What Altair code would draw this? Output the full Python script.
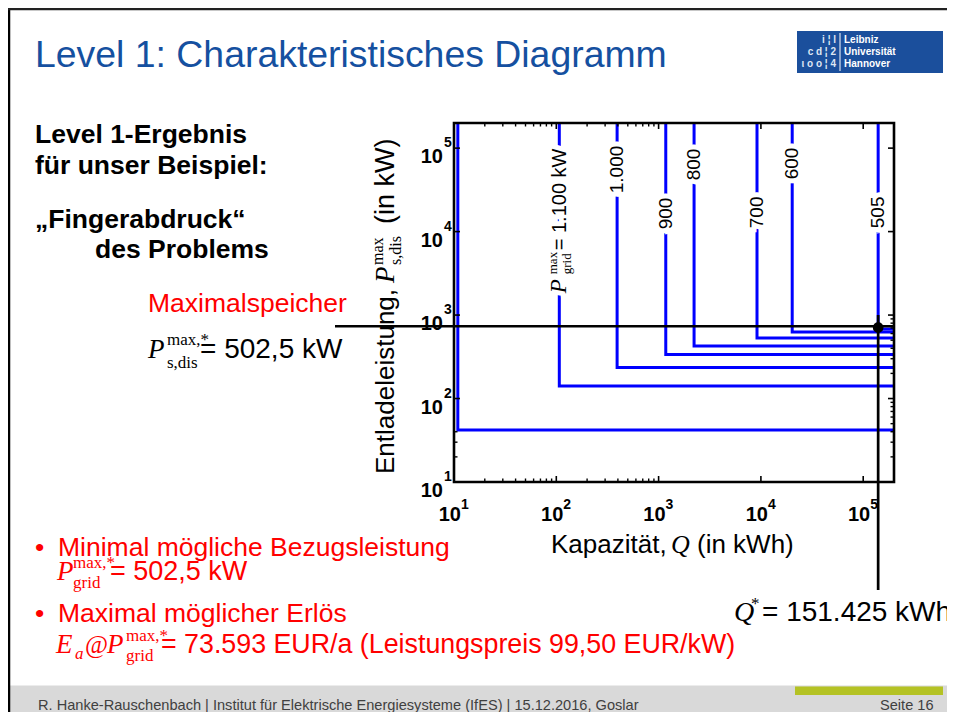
import altair as alt
import pandas as pd

# ---------------- data ----------------
AX_MIN, AX_MAX = 10, 2e5                     # both axes, log scale
curve_names = ["1.200", "1.100", "1.000", "900", "800", "700", "600", "505"]
curve_Q = [10.9, 107, 393, 1175, 2222, 9160, 20230, 140000]      # kWh (vertical leg)
curve_P = [41.9, 141, 236, 337, 427, 532, 627, 682]              # kW  (horizontal leg)

label_text = ["1.000", "900", "800", "700", "600", "505"]
label_Q = [393, 1175, 2222, 9160, 20230, 140000]
label_P = [55500, 16500, 63700, 17000, 65500, 17000]
main_label_Q, main_label_P = 107, 1825

opt_Q, opt_P = 140000, 710          # optimum point
hline_P, vline_top_P = 734, 1000    # black guide lines

major_ticks = [10, 100, 1000, 10000, 100000]
major_exp = ["1", "2", "3", "4", "5"]
minor_bottom = [20, 30, 40, 50, 60, 70, 80, 90, 200, 300, 400, 500, 600, 700, 800, 900]
minor_top = minor_bottom
minor_left = [20, 30, 40]
minor_right = [20, 30, 40, 50, 60, 70, 80, 90, 200, 300, 400, 500, 600, 700, 800, 900]

# ---------------- layout ----------------
W, H = 440, 359
OX, OY = 454, 123            # page position of the plot origin
SANS = "Liberation Sans, Arial, sans-serif"
SERIF = "Liberation Serif, Times New Roman, serif"
RED = "#ff0000"
BLUE_T = "#1550a0"

xs = alt.Scale(type="log", domain=[AX_MIN, AX_MAX], nice=False)
ys = alt.Scale(type="log", domain=[AX_MIN, AX_MAX], nice=False)
def X(f): return alt.X(f, type="quantitative", scale=xs, axis=None)
def Y(f): return alt.Y(f, type="quantitative", scale=ys, axis=None)

ONE = pd.DataFrame({"k": [0]})

def txt(s, px, py, size, color="#000000", font=SANS, weight="normal", style="normal",
        align="left", angle=0, baseline="alphabetic"):
    return alt.Chart(ONE).mark_text(
        text=s, fontSize=size, color=color, font=font, fontWeight=weight,
        fontStyle=style, align=align, baseline=baseline, angle=angle
    ).encode(x=alt.value(px - OX), y=alt.value(py - OY))

def box(x1, y1, x2, y2, fill):
    return alt.Chart(ONE).mark_rect(color=fill).encode(
        x=alt.value(x1 - OX), x2=alt.value(x2 - OX),
        y=alt.value(y1 - OY), y2=alt.value(y2 - OY))

def seg(x1, y1, x2, y2, color, sw):
    return alt.Chart(ONE).mark_rule(color=color, strokeWidth=sw).encode(
        x=alt.value(x1 - OX), x2=alt.value(x2 - OX),
        y=alt.value(y1 - OY), y2=alt.value(y2 - OY))

layers = []

# ---- slide decoration ----
layers.append(box(8, 685.5, 947, 720, "#d9d9d9"))
layers.append(box(795, 686.5, 943, 695, "#b4c224"))
layers.append(seg(9, 8, 9, 720, "#000000", 2.5))
layers.append(seg(8, 9, 947, 9, "#222222", 2.5))
layers.append(box(797, 31, 943, 73, "#1b4f9c"))
layers.append(seg(840, 33, 840, 71, "#ffffff", 1))
for i, s in enumerate(["Leibniz", "Universität", "Hannover"]):
    layers.append(txt(s, 844, 43 + 12 * i, 10, "#ffffff", weight="bold"))
for i, s in enumerate(["i ¦ l", "c d ¦ 2", "ι o o ¦ 4"]):
    layers.append(txt(s, 836, 43 + 12 * i, 10, "#dfe6f3", weight="bold", align="right"))

layers.append(txt("Level 1: Charakteristisches Diagramm", 35, 67, 37.4, BLUE_T))
layers.append(txt("R. Hanke-Rauschenbach | Institut für Elektrische Energiesysteme (IfES) | 15.12.2016, Goslar",
                  38, 710, 14.6, "#404040"))
layers.append(txt("Seite 16", 880, 710, 14.6, "#404040"))

# left block
layers.append(txt("Level 1-Ergebnis", 35, 143, 26.5, weight="bold"))
layers.append(txt("für unser Beispiel:", 35, 174, 26.5, weight="bold"))
layers.append(txt("„Fingerabdruck“", 35, 228, 26.5, weight="bold"))
layers.append(txt("des Problems", 95, 258, 26.5, weight="bold"))
layers.append(txt("Maximalspeicher", 148, 312, 26.5, RED))
layers.append(txt("P", 148, 358, 27, font=SERIF, style="italic"))
layers.append(txt("max,*", 167, 345, 17, font=SERIF))
layers.append(txt("s,dis", 167, 368, 17, font=SERIF))
layers.append(txt("= 502,5 kW", 200, 358, 28))

# bottom block
layers.append(txt("•", 35, 556, 26.5, RED))
layers.append(txt("Minimal mögliche Bezugsleistung", 58, 556, 26.5, RED))
layers.append(txt("P", 57, 580, 27, RED, font=SERIF, style="italic"))
layers.append(txt("max,*", 73, 568, 17, RED, font=SERIF))
layers.append(txt("grid", 73, 588, 17, RED, font=SERIF))
layers.append(txt("= 502,5 kW", 110, 580, 27, RED))
layers.append(txt("•", 35, 622, 26.5, RED))
layers.append(txt("Maximal möglicher Erlös", 58, 622, 26.5, RED))
layers.append(txt("E", 56, 653, 27, RED, font=SERIF, style="italic"))
layers.append(txt("a", 75, 659, 17, RED, font=SERIF, style="italic"))
layers.append(txt("@", 85, 653, 25, RED, font=SERIF))
layers.append(txt("P", 107, 653, 27, RED, font=SERIF, style="italic"))
layers.append(txt("max,*", 126, 641, 17, RED, font=SERIF))
layers.append(txt("grid", 126, 661, 17, RED, font=SERIF))
layers.append(txt("= 73.593 EUR/a (Leistungspreis 99,50 EUR/kW)", 161, 653, 26.8, RED))

# axis titles
layers.append(txt("Kapazität,", 551, 553, 26))
layers.append(txt("Q", 671, 553, 26, font=SERIF, style="italic"))
layers.append(txt("(in kWh)", 697, 553, 26))
layers.append(txt("Entladeleistung,", 394, 474, 26, angle=270))
layers.append(txt("P", 394, 283, 27, font=SERIF, style="italic", angle=270))
layers.append(txt("max", 383, 265, 16, font=SERIF, angle=270))
layers.append(txt("s,dis", 401, 265, 16, font=SERIF, angle=270))
layers.append(txt("(in kW)", 394, 224, 27, angle=270))

# Q* annotation
layers.append(txt("Q", 734, 621, 28, font=SERIF, style="italic"))
layers.append(txt("*", 751, 609, 17, font=SERIF))
layers.append(txt("= 151.425 kWh", 762, 621, 28))

# ---- plot content ----
rows = []
for n, q, p in zip(curve_names, curve_Q, curve_P):
    rows += [dict(curve=n, o=0, Q=q, P=AX_MAX), dict(curve=n, o=1, Q=q, P=p),
             dict(curve=n, o=2, Q=AX_MAX, P=p)]
curves = pd.DataFrame(rows)
layers.append(alt.Chart(curves).mark_line(color="#0000ff", strokeWidth=3).encode(
    x=X("Q"), y=Y("P"), detail="curve:N", order="o:O"))

# curve labels with white halo
lab = pd.DataFrame({"t": label_text, "Q": label_Q, "P": label_P})
ml = pd.DataFrame({"Q": [main_label_Q], "P": [main_label_P]})
main_pieces = [("P", SERIF, "italic", 23, 0, 7), ("max", SERIF, "normal", 13, 19, -2),
               ("grid", SERIF, "normal", 13, 19, 12), ("= 1.100 kW", SANS, "normal", 20, 43, 7)]
for halo in (True, False):
    kw = dict(stroke="white", strokeWidth=10, color="white") if halo else dict(color="black")
    layers.append(alt.Chart(lab).mark_text(fontSize=19, font=SANS, angle=270, align="center",
                                           baseline="middle", **kw).encode(
        x=X("Q"), y=Y("P"), text="t:N"))
    for s, f, st, sz, dx, dy in main_pieces:
        layers.append(alt.Chart(ml).mark_text(text=s, fontSize=sz, font=f, fontStyle=st, angle=270,
                                              align="left", baseline="alphabetic", dx=dx, dy=dy, **kw).encode(
            x=X("Q"), y=Y("P")))

# black guide lines and optimum point
layers.append(alt.Chart(pd.DataFrame({"P": [hline_P]})).mark_rule(color="black", strokeWidth=2.7).encode(
    y=Y("P"), x=alt.value(335 - OX), x2=alt.value(W)))
layers.append(alt.Chart(pd.DataFrame({"Q": [opt_Q], "P": [vline_top_P]})).mark_rule(color="black", strokeWidth=2.7).encode(
    x=X("Q"), y=Y("P"), y2=alt.value(590 - OY)))
layers.append(alt.Chart(pd.DataFrame({"Q": [opt_Q], "P": [opt_P]})).mark_point(
    filled=True, color="black", size=115, opacity=1).encode(x=X("Q"), y=Y("P")))

# ticks (inward, on all four sides)
mj = pd.DataFrame({"v": major_ticks, "e": major_exp})
def ticks_x(vals, y0, y1, sw):
    return alt.Chart(pd.DataFrame({"v": vals})).mark_rule(color="black", strokeWidth=sw).encode(
        x=X("v"), y=alt.value(y0), y2=alt.value(y1))
def ticks_y(vals, x0, x1, sw):
    return alt.Chart(pd.DataFrame({"v": vals})).mark_rule(color="black", strokeWidth=sw).encode(
        y=Y("v"), x=alt.value(x0), x2=alt.value(x1))
layers += [ticks_x(major_ticks, H, H - 6, 1.6), ticks_x(major_ticks, 0, 6, 1.6),
           ticks_y(major_ticks, 0, 6, 1.6), ticks_y(major_ticks, W, W - 6, 1.6),
           ticks_x(minor_bottom, H, H - 3.5, 1.4), ticks_x(minor_top, 0, 3.5, 1.4),
           ticks_y(minor_left, 0, 3.5, 1.4), ticks_y(minor_right, W, W - 3.5, 1.4)]

# frame
layers.append(alt.Chart(ONE).mark_rect(fillOpacity=0, stroke="black", strokeWidth=2.6).encode(
    x=alt.value(0), x2=alt.value(W), y=alt.value(0), y2=alt.value(H)))

# tick labels 10^n
layers.append(alt.Chart(mj).mark_text(text="10", align="right", fontSize=20, fontWeight="bold",
                                      font=SANS, dx=7).encode(x=X("v"), y=alt.value(H + 33)))
layers.append(alt.Chart(mj).mark_text(align="left", fontSize=14, fontWeight="bold",
                                      font=SANS, dx=7).encode(x=X("v"), y=alt.value(H + 23), text="e:N"))
layers.append(alt.Chart(mj).mark_text(text="10", align="right", fontSize=20, fontWeight="bold",
                                      font=SANS, dy=9).encode(y=Y("v"), x=alt.value(-11)))
layers.append(alt.Chart(mj).mark_text(align="left", fontSize=14, fontWeight="bold",
                                      font=SANS, dy=-5).encode(y=Y("v"), x=alt.value(-10), text="e:N"))

chart = alt.layer(*layers).properties(
    width=W, height=H,
    padding={"left": OX - 8, "top": OY - 8, "right": 939 - (OX - 8) - W, "bottom": 704 - (OY - 8) - H},
    autosize=alt.AutoSizeParams(type="none"),
).configure_view(stroke=None)

chart.save("out.html", embed_options={"renderer": "svg", "actions": False})
